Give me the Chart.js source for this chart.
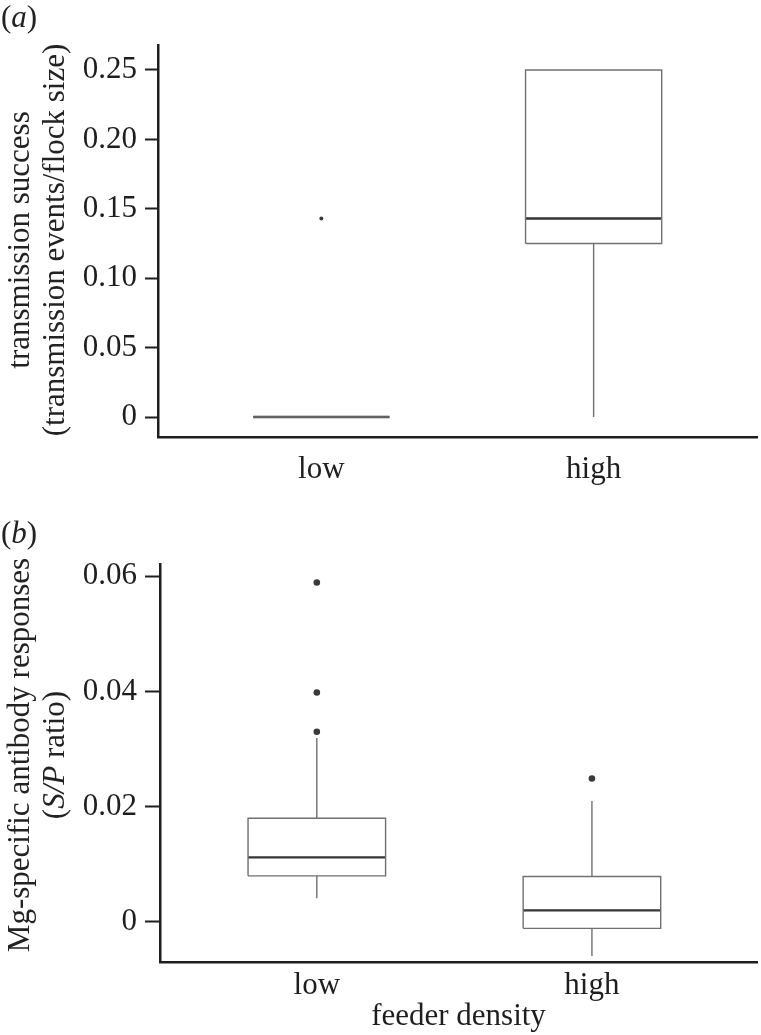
<!DOCTYPE html>
<html>
<head>
<meta charset="utf-8">
<script src="https://cdn.jsdelivr.net/npm/chart.js@4.4.1/dist/chart.umd.min.js"></script>
<style>
    body { margin: 0; background: #fff; font-family: "Liberation Serif", "Times New Roman", serif; color: #222; }
    #page { position: relative; width: 761px; height: 1035px; overflow: hidden; }
    canvas { position: absolute; left: 0; }
    .letter { position: absolute; font-size: 31px; line-height: 1; }
    .ytitle { position: absolute; font-size: 31px; line-height: 1; white-space: nowrap;
              transform: translate(-50%, -50%) rotate(-90deg); }
</style>
</head>
<body>
<div id="page">
    <canvas id="chartA" width="761" height="500" style="top:0"></canvas>
    <canvas id="chartB" width="761" height="535" style="top:500px"></canvas>

    <div class="letter" style="left:1px; top:1px">(<i>a</i>)</div>
    <div class="letter" style="left:1px; top:517px">(<i>b</i>)</div>

    <div class="ytitle" style="left:18px; top:240px">transmission success</div>
    <div class="ytitle" style="left:53px; top:240px">(transmission events/flock size)</div>
    <div class="ytitle" style="left:18px; top:755px">Mg-specific antibody responses</div>
    <div class="ytitle" style="left:53px; top:755px">(<i>S/P</i> ratio)</div>
</div>

<script>
// Categories
const groups = ['low', 'high'];

// Panel (a): transmission success
const transLower = [0, 0];
const transQ1 = [0, 0.125];
const transMedian = [0, 0.143];
const transQ3 = [0, 0.25];
const transUpper = [0, 0.25];
const transOutliers = [[0.143], []];
const transTicks = [0, 0.05, 0.10, 0.15, 0.20, 0.25];

// Panel (b): Mg-specific antibody responses
const abLower = [0.0041, -0.0059];
const abQ1 = [0.0080, -0.0011];
const abMedian = [0.0112, 0.0020];
const abQ3 = [0.0180, 0.0079];
const abUpper = [0.0319, 0.0210];
const abOutliers = [[0.0589, 0.0398, 0.0330], [0.0249]];
const abTicks = [0, 0.02, 0.04, 0.06];

const HALF = 0.25;           // half box width in category units
const INK = '#1e1e1e';
const FONT = { family: '"Liberation Serif", "Times New Roman", serif', size: 31 };

// Build box, whisker, median and outlier datasets from the summary arrays
function boxDatasets(lower, q1, median, q3, upper, outliers, dotRadius) {
    const box = [], whisk = [], med = [], out = [];
    groups.forEach((g, i) => {
        const x = i + 1;
        box.push(
            { x: x - HALF, y: q1[i] }, { x: x + HALF, y: q1[i] },
            { x: x + HALF, y: q3[i] }, { x: x - HALF, y: q3[i] },
            { x: x - HALF, y: q1[i] }, { x: x, y: null }
        );
        whisk.push(
            { x: x, y: q3[i] }, { x: x, y: upper[i] }, { x: x, y: null },
            { x: x, y: q1[i] }, { x: x, y: lower[i] }, { x: x, y: null }
        );
        med.push({ x: x - HALF, y: median[i] }, { x: x + HALF, y: median[i] }, { x: x, y: null });
        outliers[i].forEach(v => out.push({ x: x, y: v }));
    });
    const line = { showLine: true, pointRadius: 0, spanGaps: false, fill: false };
    return [
        { ...line, data: box, borderColor: '#707070', borderWidth: 1.4 },
        { ...line, data: whisk, borderColor: '#707070', borderWidth: 1.4 },
        { ...line, data: med, borderColor: '#353535', borderWidth: 2.3 },
        { data: out, showLine: false, pointRadius: dotRadius, backgroundColor: '#3a3a3a', borderWidth: 0 }
    ];
}

function makeChart(id, datasets, cfg) {
    const ctx = document.getElementById(id).getContext('2d');
    return new Chart(ctx, {
        type: 'scatter',
        data: { datasets: datasets },
        options: {
            responsive: false,
            animation: false,
            layout: { padding: { top: cfg.padTop, right: 1, bottom: 0, left: 0 } },
            plugins: { legend: { display: false }, tooltip: { enabled: false } },
            scales: {
                x: {
                    type: 'linear',
                    min: cfg.xMin,
                    max: 2.6,
                    afterBuildTicks: s => { s.ticks = groups.map((g, i) => ({ value: i + 1 })); },
                    afterFit: s => { s.height = cfg.xHeight; },
                    grid: { display: false, drawTicks: false },
                    border: { display: true, color: INK, width: 2.5 },
                    ticks: {
                        callback: v => groups[v - 1],
                        font: FONT, color: INK, padding: cfg.xPad,
                        maxRotation: 0, autoSkip: false
                    },
                    title: {
                        display: !!cfg.xTitle,
                        text: cfg.xTitle || '',
                        font: FONT, color: INK,
                        padding: { top: 0, bottom: 0 }
                    }
                },
                y: {
                    type: 'linear',
                    min: cfg.yMin,
                    max: cfg.yMax,
                    afterBuildTicks: s => { s.ticks = cfg.yTicks.map(v => ({ value: v })); },
                    afterFit: s => { s.width = cfg.yWidth; },
                    grid: {
                        drawOnChartArea: false, drawTicks: true,
                        tickLength: cfg.tickLength, tickWidth: 2, tickColor: INK
                    },
                    border: { display: true, color: INK, width: 2.5 },
                    ticks: {
                        callback: v => v === 0 ? '0' : v.toFixed(2),
                        font: FONT, color: INK, padding: 8
                    }
                }
            }
        }
    });
}

makeChart('chartA',
    boxDatasets(transLower, transQ1, transMedian, transQ3, transUpper, transOutliers, 2),
    { padTop: 45, xHeight: 63, yWidth: 158, tickLength: 13, xPad: 14,
      xMin: 0.4, yMin: -0.0144, yMax: 0.268, yTicks: transTicks });

makeChart('chartB',
    boxDatasets(abLower, abQ1, abMedian, abQ3, abUpper, abOutliers, 3.3),
    { padTop: 64, xHeight: 73, yWidth: 160, tickLength: 15, xPad: 5,
      xMin: 0.43, yMin: -0.00694, yMax: 0.0621, yTicks: abTicks, xTitle: 'feeder density' });
</script>
</body>
</html>
